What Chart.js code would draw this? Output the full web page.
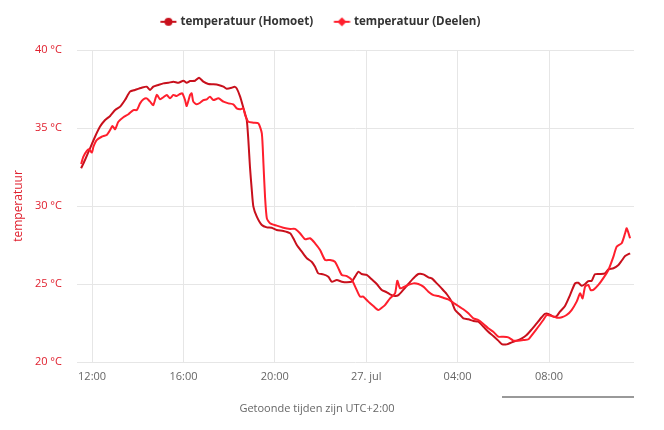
<!DOCTYPE html>
<html>
<head>
<meta charset="utf-8">
<script src="https://cdn.jsdelivr.net/npm/chart.js@4/dist/chart.umd.min.js"></script>
<style>
  html, body { margin: 0; padding: 0; background: #ffffff; }
  #wrap { width: 664px; height: 430px; position: relative; }
</style>
</head>
<body>
<div id="wrap"><canvas id="c" width="664" height="430"></canvas></div>
<script>
// hours since 26 jul 00:00 (local, UTC+2)
const homoetTime = [11.52,11.69,11.91,12.13,12.35,12.57,12.79,13.01,13.23,13.44,13.66,13.88,14.17,14.39,14.54,14.68,14.90,15.12,15.34,15.56,15.78,16.00,16.14,16.29,16.51,16.68,16.87,17.09,17.31,17.53,17.75,17.89,18.11,18.23,18.33,18.48,18.62,18.77,18.84,18.91,18.99,19.06,19.21,19.43,19.65,19.86,20.08,20.37,20.67,20.81,20.96,21.18,21.40,21.61,21.76,21.90,22.12,22.34,22.49,22.71,22.93,23.15,23.37,23.51,23.66,23.80,24.02,24.24,24.46,24.68,24.90,25.04,25.26,25.41,25.62,25.84,26.06,26.28,26.50,26.72,26.87,27.09,27.30,27.52,27.74,27.89,28.11,28.25,28.47,28.69,28.91,29.13,29.34,29.56,29.78,29.93,30.15,30.37,30.59,30.81,31.02,31.24,31.46,31.68,31.82,31.97,32.19,32.34,32.48,32.70,32.92,33.14,33.28,33.43,33.58,33.72,33.87,34.01,34.23,34.45,34.60,34.82,35.04,35.18,35.33,35.55];
const homoetTemp = [32.42,32.95,33.70,34.44,35.09,35.51,35.77,36.15,36.37,36.79,37.33,37.44,37.58,37.65,37.44,37.65,37.76,37.86,37.90,37.97,37.90,38.03,37.90,38.01,38.03,38.22,37.97,37.82,37.80,37.76,37.65,37.52,37.58,37.65,37.54,37.01,36.30,35.51,34.23,32.52,31.03,29.96,29.32,28.78,28.63,28.61,28.46,28.40,28.25,27.93,27.50,27.07,26.65,26.43,26.11,25.68,25.62,25.47,25.15,25.26,25.15,25.11,25.15,25.47,25.79,25.64,25.58,25.30,25.00,24.62,24.47,24.34,24.23,24.29,24.62,25.00,25.36,25.64,25.62,25.43,25.36,25.04,24.72,24.36,23.87,23.33,23.01,22.80,22.74,22.63,22.58,22.26,21.94,21.67,21.37,21.15,21.13,21.26,21.37,21.51,21.73,22.09,22.48,22.87,23.08,23.08,22.91,22.95,23.23,23.59,24.29,25.04,25.08,24.89,25.00,25.19,25.21,25.62,25.64,25.68,25.94,26.01,26.22,26.49,26.79,26.97];
const deelenTime = [11.52,11.62,11.77,11.87,11.99,12.06,12.20,12.42,12.64,12.79,12.89,13.01,13.15,13.37,13.59,13.81,13.96,14.10,14.25,14.39,14.54,14.68,14.83,14.98,15.12,15.27,15.41,15.56,15.70,15.85,15.95,16.07,16.14,16.29,16.36,16.43,16.58,16.73,16.87,17.02,17.16,17.31,17.53,17.75,17.97,18.18,18.33,18.48,18.62,18.70,18.84,19.06,19.28,19.43,19.50,19.57,19.65,19.79,20.08,20.37,20.67,20.88,21.10,21.32,21.54,21.76,21.98,22.20,22.42,22.63,22.78,22.93,23.15,23.37,23.58,23.73,23.87,24.09,24.31,24.53,24.68,24.82,25.04,25.26,25.36,25.48,25.62,25.84,26.06,26.28,26.50,26.72,26.94,27.16,27.37,27.59,27.81,28.03,28.25,28.47,28.69,28.91,29.13,29.34,29.56,29.78,30.00,30.22,30.44,30.66,30.88,31.10,31.31,31.53,31.75,31.90,32.12,32.34,32.56,32.77,32.99,33.21,33.36,33.47,33.58,33.72,33.82,33.94,34.16,34.37,34.60,34.82,34.96,35.18,35.33,35.40,35.55];
const deelenTemp = [32.69,33.16,33.53,33.63,33.42,33.80,34.23,34.44,34.55,34.87,35.13,34.92,35.40,35.69,35.88,36.15,36.15,36.58,36.84,36.90,36.69,36.47,37.12,36.84,36.97,37.12,36.90,37.12,37.05,37.18,37.22,36.79,36.41,37.12,37.22,36.69,36.52,36.62,36.79,36.84,37.01,36.79,36.90,36.69,36.58,36.52,36.26,36.20,36.26,35.83,35.40,35.34,35.30,34.66,32.74,30.60,29.21,28.89,28.74,28.61,28.53,28.53,28.25,27.87,27.93,27.61,27.18,26.54,26.54,26.43,26.01,25.58,25.51,25.26,24.62,24.19,24.19,23.87,23.59,23.33,23.48,23.65,24.08,24.40,25.21,24.72,24.79,24.94,25.04,25.00,24.83,24.51,24.29,24.23,24.12,24.01,23.80,23.59,23.38,23.12,22.80,22.69,22.44,22.16,21.94,21.62,21.62,21.58,21.37,21.37,21.41,21.46,21.84,22.26,22.69,23.01,22.95,22.84,22.87,23.01,23.33,23.87,24.40,24.08,24.83,24.94,24.62,24.62,24.94,25.36,25.90,26.75,27.39,27.61,28.25,28.57,27.93];

const seriesNames = ['temperatuur (Homoet)', 'temperatuur (Deelen)'];
const xTickValues = [12, 16, 20, 24, 28, 32];
const xTickLabels = ['12:00', '16:00', '20:00', '27. jul', '04:00', '08:00'];
const yTickValues = [20, 25, 30, 35, 40];
const yTickUnit = ' °C';
const xAxisTitle = 'Getoonde tijden zijn UTC+2:00';
const yAxisTitle = 'temperatuur';

const colHomoet = '#c8101c';
const colDeelen = '#ff1f2d';
const FONT = "'Open Sans', 'DejaVu Sans', sans-serif";

function toPoints(xs, ys) { return xs.map((x, i) => ({ x: x, y: ys[i] })); }

// legend symbol: line + marker, drawn in the right part of a wider transparent canvas
function makeIcon(color, shape) {
  const c = document.createElement('canvas');
  c.width = 26; c.height = 10;
  const g = c.getContext('2d');
  const ox = 9.3;
  g.strokeStyle = color; g.lineWidth = 2;
  g.beginPath(); g.moveTo(ox, 5); g.lineTo(ox + 16, 5); g.stroke();
  g.fillStyle = color;
  g.beginPath();
  if (shape === 'circle') { g.arc(ox + 8, 5, 4, 0, Math.PI * 2); }
  else { g.moveTo(ox + 8, 0.5); g.lineTo(ox + 12.5, 5); g.lineTo(ox + 8, 9.5); g.lineTo(ox + 3.5, 5); g.closePath(); }
  g.fill();
  return c;
}
const legendIcons = [makeIcon(colHomoet, 'circle'), makeIcon(colDeelen, 'diamond')];

const extraBar = {
  id: 'extraBar',
  afterDraw(chart) {
    const a = chart.chartArea, ctx = chart.ctx;
    ctx.save();
    ctx.strokeStyle = '#999999';
    ctx.lineWidth = 2;
    ctx.beginPath();
    ctx.moveTo(a.right - 132, a.bottom + 35);
    ctx.lineTo(a.right, a.bottom + 35);
    ctx.stroke();
    ctx.restore();
  }
};

new Chart(document.getElementById('c'), {
  type: 'line',
  data: {
    datasets: [
      { label: seriesNames[0], data: toPoints(homoetTime, homoetTemp), borderColor: colHomoet, backgroundColor: colHomoet, borderWidth: 2, pointRadius: 0, tension: 0.2, order: 1 },
      { label: seriesNames[1], data: toPoints(deelenTime, deelenTemp), borderColor: colDeelen, backgroundColor: colDeelen, borderWidth: 2, pointRadius: 0, tension: 0.2, order: 0 }
    ]
  },
  options: {
    responsive: false,
    animation: false,
    devicePixelRatio: 1,
    layout: { padding: { top: 2, right: 30, bottom: 0, left: 0 } },
    plugins: {
      legend: {
        position: 'top',
        weight: 3000,
        labels: {
          usePointStyle: true,
          pointStyleWidth: 21,
          padding: 14,
          color: '#333333',
          font: { family: FONT, size: 11.6, weight: 'bold', lineHeight: 1.2 },
          generateLabels: (chart) => chart.data.datasets.map((ds, i) => ({
            text: ds.label, datasetIndex: i, pointStyle: legendIcons[i],
            fillStyle: ds.borderColor, strokeStyle: ds.borderColor, lineWidth: 0,
            fontColor: '#333333', hidden: !chart.isDatasetVisible(i)
          }))
        }
      },
      title: { display: true, text: '', padding: 0, font: { size: 12.4, lineHeight: 1 } },
      subtitle: {
        display: true, position: 'bottom', text: xAxisTitle, color: '#666666',
        font: { family: FONT, size: 11, weight: 'normal', lineHeight: 1.2 },
        padding: { top: 0, bottom: 14.4 }
      },
      tooltip: { enabled: false }
    },
    scales: {
      x: {
        type: 'linear',
        min: 11.34,
        max: 35.72,
        afterBuildTicks: (s) => { s.ticks = xTickValues.map(v => ({ value: v })); },
        afterFit: (s) => { s.height = 40.4; },
        grid: { color: '#e6e6e6', drawTicks: false },
        border: { display: false },
        ticks: {
          autoSkip: false, maxRotation: 0, padding: 8,
          color: '#666666', font: { family: FONT, size: 11 },
          callback: (v, i) => xTickLabels[i]
        }
      },
      y: {
        min: 20,
        max: 40,
        afterBuildTicks: (s) => { s.ticks = yTickValues.map(v => ({ value: v })); },
        afterFit: (s) => { s.width = 77; },
        grid: { color: '#e6e6e6', drawTicks: false },
        border: { display: false },
        ticks: {
          padding: 15,
          color: '#e0202e', font: { family: FONT, size: 11 },
          callback: (v) => v + yTickUnit
        },
        title: { display: true, text: yAxisTitle, color: '#e0202e', font: { family: FONT, size: 12 }, padding: { top: 11, bottom: 0 } }
      }
    }
  },
  plugins: [extraBar]
});
</script>
</body>
</html>
